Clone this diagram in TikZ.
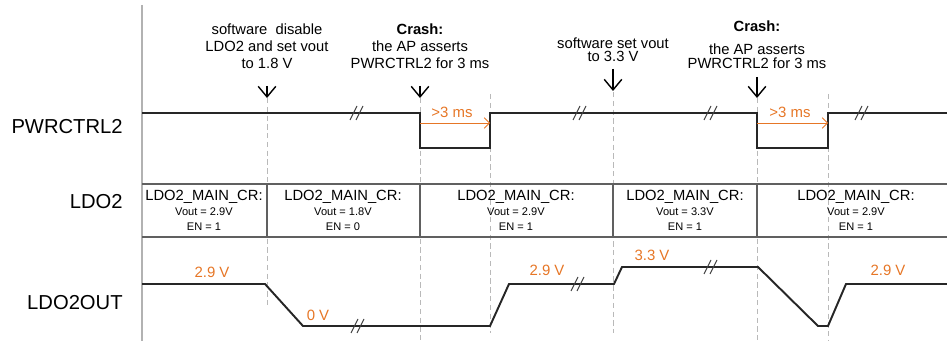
\documentclass[tikz,border=0pt]{standalone}
\usepackage{fontspec}
\setmainfont{Liberation Sans}
\usetikzlibrary{arrows.meta}

\definecolor{voltc}{RGB}{230,118,38}

\begin{document}
\begin{tikzpicture}[
		x=0.02cm, y=-0.02cm,
		sig/.style={line width=1.1pt, black!85},
		grid/.style={gray!55, densely dashed, line width=0.4pt},
		cellline/.style={gray!75!black, line width=0.6pt},
		evt/.style={-{Straight Barb[length=6pt, width=10pt]}, line width=0.8pt},
		dur/.style={voltc, line width=0.5pt, -{Straight Barb[length=3pt, width=6pt]}},
		lab/.style={anchor=east, inner sep=0, font=\fontsize{11.5}{13}\selectfont},
		note/.style={inner sep=0, align=center, font=\fontsize{8.4}{9.6}\selectfont},
		volt/.style={inner sep=0, text=voltc, font=\fontsize{8.5}{10}\selectfont},
		crcell/.style={inner sep=0, align=center, font=\fontsize{6.3}{8.5}\selectfont},
		brk/.pic={\draw[line width=0.55pt, black!75] (-7,7) -- (0,-7) (-1,7) -- (6,-7);}
	]
  \useasboundingbox (0,0) rectangle (947,341);

  % signal names
  \node (pwr) [lab] at (123,127) {PWRCTRL2};
  \node (ldo) [lab] at (123,202) {LDO2};
  \node (out) [lab] at (123,303) {LDO2OUT};
  \draw [gray!60, line width=0.85pt] (142,5) -- (142,341);

  % events
  \node (sw1) [note] at (267,46) {software\ \ disable\\LDO2 and set vout\\to 1.8 V};
  \node (crash1) [note] at (420,46) {\textbf{Crash:}\\the AP asserts\\PWRCTRL2 for 3 ms};
  \node (sw2) [note, font=\fontsize{8.4}{7.5}\selectfont] at (613,50) {software set vout\\to 3.3 V};
  \node (crash2h) [note] at (757,26) {\textbf{Crash:}};
  \node (crash2) [note, font=\fontsize{8.4}{8}\selectfont] at (757,56) {the AP asserts\\PWRCTRL2 for 3 ms};

  \coordinate (a1) at (267,86);  \coordinate (b1) at (267,98);
  \coordinate (a2) at (420,86);  \coordinate (b2) at (420,98);
  \coordinate (a3) at (613,69);  \coordinate (b3) at (613,91);
  \coordinate (a4) at (757,77);  \coordinate (b4) at (757,98);
  \draw [evt] (a1) -- (b1);
  \draw [evt] (a2) -- (b2);
  \draw [evt] (a3) -- (b3);
  \draw [evt] (a4) -- (b4);

  \foreach \x/\a/\b in {267/98/307, 420/98/341, 490/94/333, 613/92/333, 757/98/341, 828/94/341}
    \draw [grid] (\x,\a) -- (\x,\b);

  % PWRCTRL2
  \draw [sig] (142,113) -- (420,113) -- (420,148) -- (490,148) -- (490,113)
    -- (757,113) -- (757,148) -- (828,148) -- (828,113) -- (947,113);
  \coordinate (p1s) at (420,123); \coordinate (p1e) at (490,123);
  \coordinate (p2s) at (757,123); \coordinate (p2e) at (828,123);
  \draw [dur] (p1s) -- (p1e);
  \draw [dur] (p2s) -- (p2e);
  \node (d1) [volt] at (452,112) {>3 ms};
  \node (d2) [volt] at (790,112) {>3 ms};

  % LDO2 register
  \draw [cellline] (142,184) -- (947,184) (142,237) -- (947,237);
  \foreach \x in {267,420,613,757}
    \draw [cellline] (\x,184) -- (\x,237);
  \node (c1) [crcell] at (204,210) {{\fontsize{8.4}{9}\selectfont LDO2\_MAIN\_CR:}\\Vout = 2.9V\\EN = 1};
  \node (c2) [crcell] at (343,210) {{\fontsize{8.4}{9}\selectfont LDO2\_MAIN\_CR:}\\Vout = 1.8V\\EN = 0};
  \node (c3) [crcell] at (516,210) {{\fontsize{8.4}{9}\selectfont LDO2\_MAIN\_CR:}\\Vout = 2.9V\\EN = 1};
  \node (c4) [crcell] at (685,210) {{\fontsize{8.4}{9}\selectfont LDO2\_MAIN\_CR:}\\Vout = 3.3V\\EN = 1};
  \node (c5) [crcell] at (856,210) {{\fontsize{8.4}{9}\selectfont LDO2\_MAIN\_CR:}\\Vout = 2.9V\\EN = 1};

  % LDO2OUT
  \draw [sig] (142,284) -- (265,284) -- (303,326) -- (490,326) -- (509,284) -- (614,284)
    -- (622,267) -- (758,267) -- (818,326) -- (828,326) -- (846,284) -- (947,284);
  \node (v1) [volt] at (212,272) {2.9 V};
  \node (v2) [volt] at (318,315) {0 V};
  \node (v3) [volt] at (547,270) {2.9 V};
  \node (v4) [volt] at (652,255) {3.3 V};
  \node (v5) [volt] at (888,270) {2.9 V};

  \foreach \p in {(357,113), (580,113), (711,113), (862,113), (358,326), (578,284), (711,267)}
    \pic at \p {brk};
\end{tikzpicture}
\end{document}
